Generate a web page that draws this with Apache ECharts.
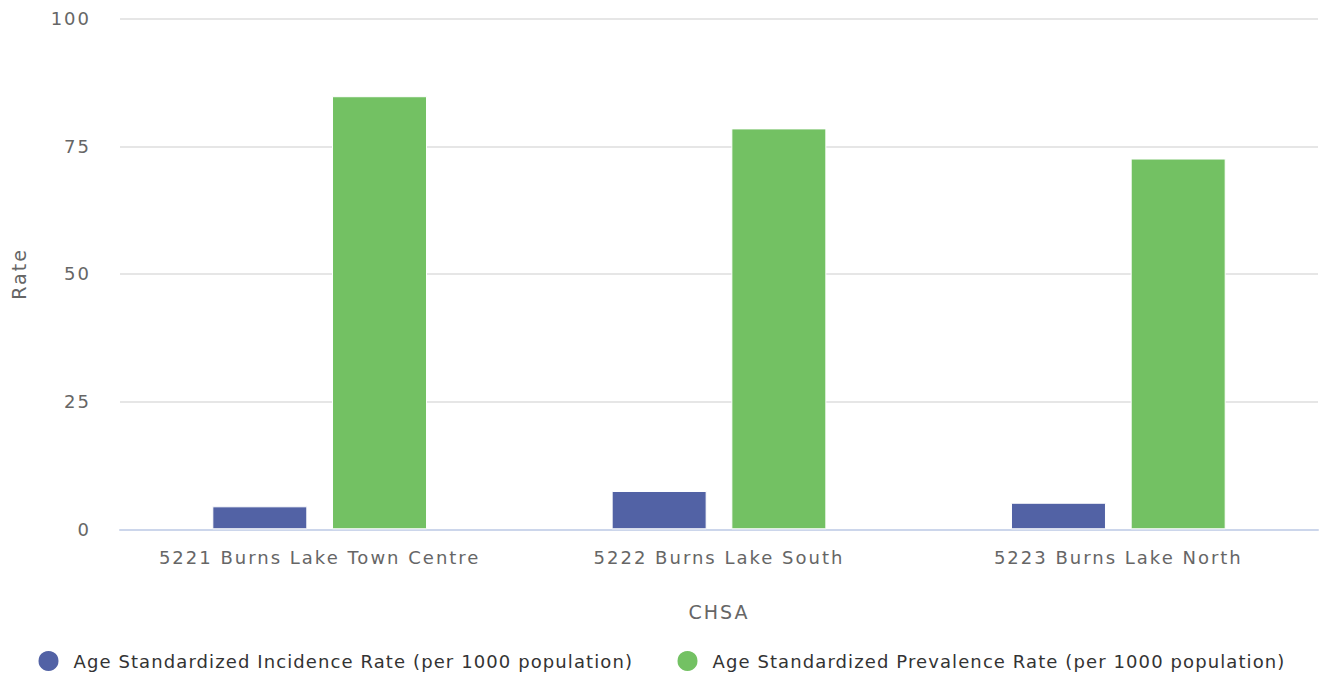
<!DOCTYPE html>
<html>
<head>
<meta charset="utf-8">
<script src="https://cdn.jsdelivr.net/npm/echarts@6/dist/echarts.min.js"></script>
<style>
html,body{margin:0;padding:0;background:#fff;}
#chart{width:1319px;height:677px;}
#chart text{letter-spacing:2px;}
</style>
</head>
<body>
<div id="chart"></div>
<script>
const categories = ["5221 Burns Lake Town Centre", "5222 Burns Lake South", "5223 Burns Lake North"];
const incidence = [4.5, 7.5, 5.2];
const prevalence = [84.8, 78.5, 72.6];
const seriesNames = ["Age Standardized Incidence Rate (per 1000 population)", "Age Standardized Prevalence Rate (per 1000 population)"];
const yTicks = [0, 25, 50, 75, 100];

const FONT = "DejaVu Sans";
const chart = echarts.init(document.getElementById('chart'), null, {renderer: 'svg'});
const legendText = {fontFamily: FONT, fontSize: 18, color: '#333', fontWeight: 'normal', padding: [0, 0, 0, 9]};
chart.setOption({
  animation: false,
  textStyle: {fontFamily: FONT},
  grid: {left: 120, right: 1, top: 18.6, bottom: 147.7, containLabel: false},
  legend: [
    {left: 36.5, top: 649, padding: 0, icon: 'circle', itemWidth: 22, itemHeight: 22,
     textStyle: legendText, data: [seriesNames[0]]},
    {left: 675.5, top: 649, padding: 0, icon: 'circle', itemWidth: 22, itemHeight: 22,
     textStyle: legendText, data: [seriesNames[1]]}
  ],
  xAxis: {
    type: 'category',
    data: categories,
    name: 'CHSA',
    nameLocation: 'middle',
    nameGap: 73,
    nameTextStyle: {fontFamily: FONT, fontSize: 19, color: '#666'},
    axisLine: {lineStyle: {color: '#ccd6eb', width: 2}},
    axisTick: {show: false},
    axisLabel: {fontFamily: FONT, fontSize: 18, color: '#666', margin: 19}
  },
  yAxis: {
    type: 'value',
    min: 0, max: 100, interval: 25,
    name: 'Rate',
    nameLocation: 'middle',
    nameGap: 92,
    nameRotate: 90,
    nameTextStyle: {fontFamily: FONT, fontSize: 19, color: '#666'},
    axisLine: {show: false},
    axisTick: {show: false},
    splitLine: {lineStyle: {color: '#e6e6e6', width: 2}},
    axisLabel: {fontFamily: FONT, fontSize: 18, color: '#666', margin: 29,
      formatter: v => yTicks.includes(v) ? String(v) : ''}
  },
  series: [
    {name: seriesNames[0], type: 'bar', data: incidence, barWidth: 95, barGap: '26%',
     itemStyle: {color: '#5262a5', borderColor: '#fff', borderWidth: 1}},
    {name: seriesNames[1], type: 'bar', data: prevalence, barWidth: 95,
     itemStyle: {color: '#73c163', borderColor: '#fff', borderWidth: 1}}
  ]
});
function tuneSpacing(){
  document.querySelectorAll('#chart text').forEach(t => {
    if (seriesNames.includes(t.textContent)) t.style.letterSpacing = '1.1px';
  });
}
tuneSpacing();
chart.on('finished', tuneSpacing);
</script>
</body>
</html>
